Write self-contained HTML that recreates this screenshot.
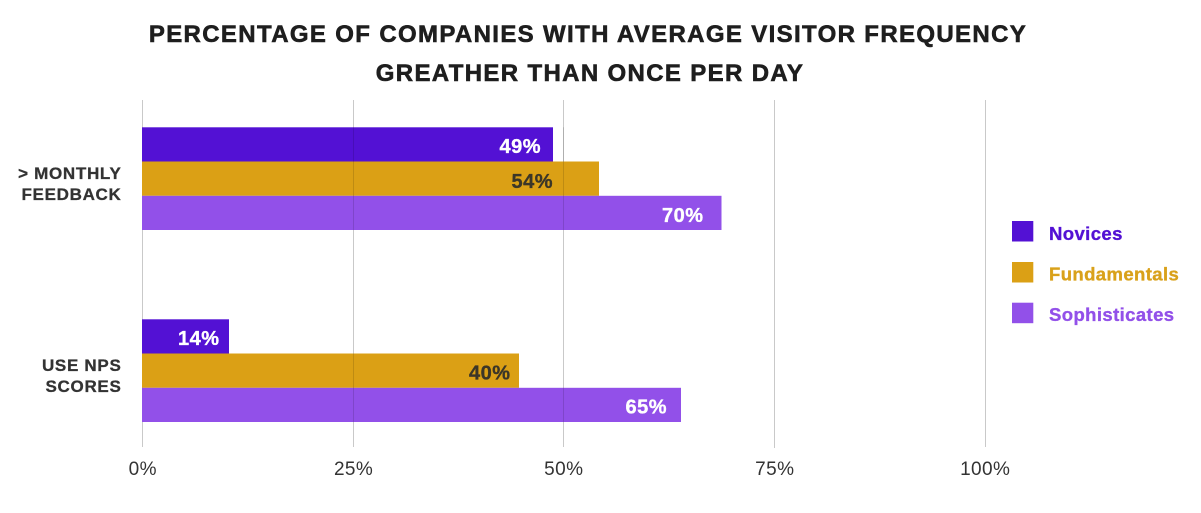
<!DOCTYPE html>
<html>
<head>
<meta charset="utf-8">
<style>
  html,body{margin:0;padding:0;background:#ffffff;}
  body{width:1201px;height:513px;overflow:hidden;}
  svg{display:block;}
  text{font-family:"Liberation Sans", Arial, sans-serif;}
</style>
</head>
<body>
<svg width="1201" height="513" viewBox="0 0 1201 513" xmlns="http://www.w3.org/2000/svg">
  <rect x="0" y="0" width="1201" height="513" fill="#ffffff"/>

  <!-- Title -->
  <g font-size="24" font-weight="bold" letter-spacing="1.35" fill="#1e1e1e" stroke="#1e1e1e" stroke-width="0.6" text-anchor="middle">
    <text x="588" y="42">PERCENTAGE OF COMPANIES WITH AVERAGE VISITOR FREQUENCY</text>
    <text x="590" y="81">GREATHER THAN ONCE PER DAY</text>
  </g>

  <!-- Gridlines -->
  <g stroke="#c9c9c9" stroke-width="1">
    <line x1="142.5" y1="100" x2="142.5" y2="447"/>
    <line x1="353.5" y1="100" x2="353.5" y2="447"/>
    <line x1="563.5" y1="100" x2="563.5" y2="447"/>
    <line x1="774.5" y1="100" x2="774.5" y2="448"/>
    <line x1="985.5" y1="100" x2="985.5" y2="447"/>
  </g>

  <!-- Bars group 1 -->
  <rect x="142" y="127.3" width="411" height="34.2" fill="#5311d4"/>
  <rect x="142" y="161.5" width="457" height="34.3" fill="#dba015"/>
  <rect x="142" y="195.8" width="579.5" height="34.2" fill="#9250e9"/>

  <!-- Bars group 2 -->
  <rect x="142" y="319.3" width="87" height="34.2" fill="#5311d4"/>
  <rect x="142" y="353.5" width="377" height="34.3" fill="#dba015"/>
  <rect x="142" y="387.8" width="539" height="34.2" fill="#9250e9"/>

  <!-- Gridlines faintly over bars -->
  <g stroke="rgba(0,0,0,0.13)" stroke-width="1">
    <line x1="353.5" y1="127.3" x2="353.5" y2="230"/>
    <line x1="563.5" y1="127.3" x2="563.5" y2="230"/>
    <line x1="353.5" y1="353.5" x2="353.5" y2="422"/>
    <line x1="563.5" y1="387.8" x2="563.5" y2="422"/>
  </g>

  <!-- Bar value labels -->
  <g font-size="20" font-weight="bold" text-anchor="end" letter-spacing="0.5" stroke-width="0.35">
    <text x="541" y="153" fill="#ffffff" stroke="#ffffff">49%</text>
    <text x="553" y="188" fill="#3b3628" stroke="#3b3628">54%</text>
    <text x="703.5" y="222" fill="#ffffff" stroke="#ffffff">70%</text>
    <text x="219.5" y="345" fill="#ffffff" stroke="#ffffff">14%</text>
    <text x="510.5" y="379.5" fill="#3b3628" stroke="#3b3628">40%</text>
    <text x="667" y="413.5" fill="#ffffff" stroke="#ffffff">65%</text>
  </g>

  <!-- Category labels -->
  <g font-size="17" font-weight="bold" text-anchor="end" letter-spacing="0.7" fill="#333333" stroke="#333333" stroke-width="0.3">
    <text x="121.5" y="179">&gt; MONTHLY</text>
    <text x="121.5" y="200">FEEDBACK</text>
    <text x="121.5" y="371">USE NPS</text>
    <text x="121.5" y="392">SCORES</text>
  </g>

  <!-- X tick labels -->
  <g font-size="19" text-anchor="middle" letter-spacing="0.4" fill="#333333">
    <text x="142.8" y="475">0%</text>
    <text x="353.6" y="475">25%</text>
    <text x="563.8" y="475">50%</text>
    <text x="774.8" y="475">75%</text>
    <text x="985.2" y="475">100%</text>
  </g>

  <!-- Legend -->
  <rect x="1012" y="221" width="21.3" height="20.5" fill="#5311d4"/>
  <rect x="1012" y="262" width="21.3" height="20.5" fill="#dba015"/>
  <rect x="1012" y="302.7" width="21.3" height="20.5" fill="#9250e9"/>
  <g font-size="18.5" font-weight="bold" letter-spacing="0.4" stroke-width="0.35">
    <text x="1049" y="240" fill="#5311d4" stroke="#5311d4">Novices</text>
    <text x="1049" y="280.7" fill="#d9a11a" stroke="#d9a11a">Fundamentals</text>
    <text x="1049" y="321" fill="#9250e9" stroke="#9250e9">Sophisticates</text>
  </g>
</svg>
</body>
</html>
